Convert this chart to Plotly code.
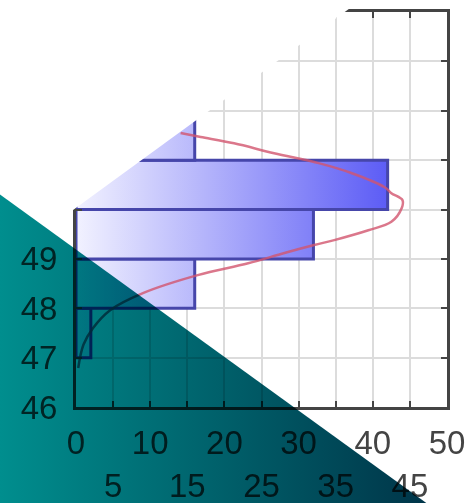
import plotly.graph_objects as go

# ---- data ----
bin_lo = [47, 48, 49, 50, 51]
bin_hi = [48, 49, 50, 51, 52]
counts = [2, 16, 32, 42, 16]

curve_y = [46.79, 47.26, 47.60, 47.96, 48.31, 48.67, 48.91, 49.12, 49.28, 49.38,
           49.58, 49.75, 50.03, 50.19, 50.33, 50.45, 50.74, 50.94, 51.14, 51.34, 51.47, 51.55]
curve_x = [0.3, 1.0, 2.3, 4.6, 9.1, 16.4, 23.2, 28.1, 32.1, 34.8,
           39.4, 42.5, 43.9, 44.0, 42.5, 41.6, 37.1, 32.7, 26.7, 21.3, 16.8, 14.1]

x_ticks = [0, 5, 10, 15, 20, 25, 30, 35, 40, 45, 50]
x_ticktext = [str(v) if v % 10 == 0 else "<br>" + str(v) for v in x_ticks]
y_ticks = [46, 47, 48, 49, 50, 51, 52, 53, 54]
y_ticktext = ["46", "47", "48", "49", "50", "51", "52", "53", ""]

W, H = 468, 503
PL, PR, PT, PB = 76, 447, 12, 407  # plot area in pixels

FONT = "Liberation Sans, Arial, sans-serif"

fig = go.Figure()

# histogram bars (horizontal) with gradient fill
for lo, hi, c in zip(bin_lo, bin_hi, counts):
    fig.add_trace(go.Scatter(
        x=[0, c, c, 0, 0], y=[lo, lo, hi, hi, lo],
        mode="lines", fill="toself",
        fillgradient=dict(type="horizontal", start=0, stop=44,
                          colorscale=[[0, "rgb(242,242,255)"], [1, "rgb(85,85,245)"]]),
        line=dict(color="#4646AA", width=3),
        hoverinfo="skip", showlegend=False, xaxis="x", yaxis="y"))

# fitted curve
fig.add_trace(go.Scatter(
    x=curve_x, y=curve_y, mode="lines", line=dict(color="rgba(210,85,110,0.8)", width=2.5, shape="spline"),
    hoverinfo="skip", showlegend=False, xaxis="x", yaxis="y"))

# white triangle overlay (pixel space)
fig.add_trace(go.Scatter(
    x=[-5, 368, -5, -5], y=[-5, -5, 267, -5], mode="lines", fill="toself",
    fillcolor="white", line=dict(width=0), hoverinfo="skip", showlegend=False,
    xaxis="x2", yaxis="y2"))

# teal triangle overlay (pixel space, multiplied)
fig.add_trace(go.Scatter(
    x=[-5, -5, 436, -5], y=[191, 510, 510, 191], mode="lines", fill="toself",
    fillgradient=dict(type="horizontal", start=0, stop=432,
                      colorscale=[[0, "rgb(0,142,142)"], [1, "rgb(0,52,72)"]]),
    line=dict(width=0), hoverinfo="skip", showlegend=False,
    xaxis="x3", yaxis="y3"))

axis_common = dict(showline=True, linecolor="#444", linewidth=3, mirror="ticks",
                   ticks="inside", ticklen=6, tickwidth=2, tickcolor="#444",
                   showgrid=True, gridcolor="#dcdcdc", gridwidth=2, zeroline=False,
                   tickfont=dict(family=FONT, size=33, color="#444"), fixedrange=True,
                   automargin=False)

hidden = dict(visible=False, fixedrange=True, domain=[0, 1], automargin=False)

fig.update_layout(
    width=W, height=H, autosize=False,
    margin=dict(l=0, r=0, t=0, b=0, autoexpand=False),
    paper_bgcolor="white", plot_bgcolor="rgba(0,0,0,0)",
    xaxis=dict(domain=[PL / W, PR / W], range=[0, 50], tickmode="array",
               tickvals=x_ticks, ticktext=x_ticktext, anchor="y", tickangle=0,
               ticklabelstandoff=4, **axis_common),
    yaxis=dict(domain=[1 - PB / H, 1 - PT / H], range=[46, 54], tickmode="array",
               tickvals=y_ticks, ticktext=y_ticktext, anchor="x", ticklabelstandoff=9,
               tickangle=0, **axis_common),
    xaxis2=dict(range=[0, W], anchor="y2", **hidden),
    yaxis2=dict(range=[H, 0], anchor="x2", **hidden),
    xaxis3=dict(range=[0, W], anchor="y3", **hidden),
    yaxis3=dict(range=[H, 0], anchor="x3", **hidden),
)

post = """
document.body.style.margin = '0';
document.body.style.overflow = 'hidden';
var gd = document.getElementById('{plot_id}');
var g = gd.querySelector('g.subplot.x3y3');
if (g) { g.style.mixBlendMode = 'multiply'; }
"""

fig.write_html("out.html", post_script=post, config={"displayModeBar": False})
